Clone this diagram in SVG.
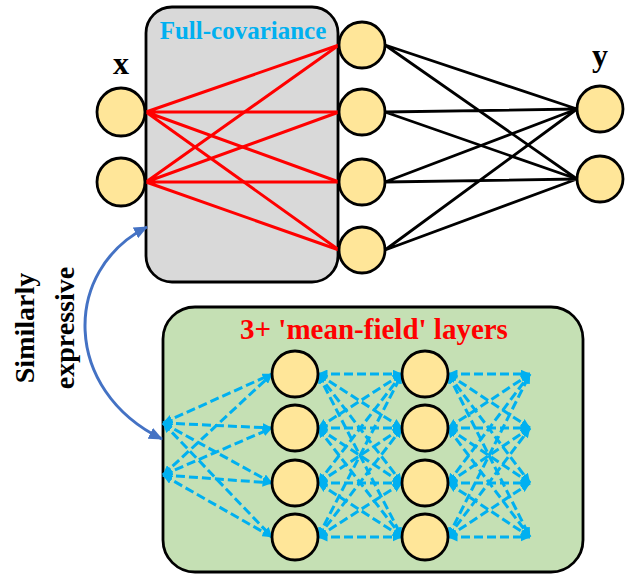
<svg xmlns="http://www.w3.org/2000/svg" width="644" height="577" viewBox="0 0 644 577">
<style>
.node{fill:#FFE699;stroke:#000;stroke-width:2.8}
.red{stroke:#FF0000;stroke-width:3;fill:none}
.blk{stroke:#000;stroke-width:2.8;fill:none}
.mf{stroke:#00B0F0;stroke-width:3;fill:none;stroke-dasharray:9 4;marker-start:url(#ah);marker-end:url(#ah)}
.t{font-family:"Liberation Serif","Times New Roman",serif;font-weight:bold;text-anchor:middle}
</style>
<defs>
<marker id="ah" viewBox="0 0 10 9" refX="9.5" refY="4.5" markerWidth="10" markerHeight="9" markerUnits="userSpaceOnUse" orient="auto-start-reverse">
<path d="M0,0 L10,4.5 L0,9 z" fill="#00B0F0"/>
</marker>
<marker id="bh" viewBox="0 0 14 12" refX="13" refY="6" markerWidth="14" markerHeight="12" markerUnits="userSpaceOnUse" orient="auto-start-reverse">
<path d="M0,0 L14,6 L0,12 z" fill="#4472C4"/>
</marker>
</defs>
<rect width="644" height="577" fill="#fff"/>
<g id="full-cov-box">
<rect x="146" y="7" width="192" height="275" rx="26" fill="#D9D9D9" stroke="#000" stroke-width="2.8"/>
<text class="t" x="243" y="39" font-size="25" fill="#00B0F0">Full-covariance</text>
</g>
<g id="mean-field-box">
<rect x="163" y="307" width="420" height="265" rx="32" fill="#C5E0B4" stroke="#000" stroke-width="2.8"/>
<text class="t" x="374" y="339" font-size="29" fill="#FF0000">3+ 'mean-field' layers</text>
</g>
<g id="labels">
<text class="t" x="121" y="74" font-size="32">x</text>
<text class="t" x="600" y="66" font-size="32">y</text>
<text class="t" font-size="28" transform="translate(34,328) rotate(-90)">Similarly</text>
<text class="t" font-size="28" transform="translate(74,328) rotate(-90)">expressive</text>
</g>
<g id="connectors">
<g class="red">
<path d="M146,112L339,45M146,112L339,112M146,112L339,182M146,112L339,250"/>
<path d="M146,182L339,45M146,182L339,112M146,182L339,182M146,182L339,250"/>
</g>
<g class="blk">
<path d="M385,45L577,109M385,45L577,179M385,112L577,109M385,112L577,179"/>
<path d="M385,182L577,109M385,182L577,179M385,250L577,109M385,250L577,179"/>
</g>
<g class="mf">
<path d="M163,423L272,374"/><path d="M163,423L272,428"/><path d="M163,423L272,483"/><path d="M163,423L272,537"/>
<path d="M163,475L272,374"/><path d="M163,475L272,428"/><path d="M163,475L272,483"/><path d="M163,475L272,537"/>
<path d="M318,374L402,374"/><path d="M318,374L402,428"/><path d="M318,374L402,483"/><path d="M318,374L402,537"/>
<path d="M318,428L402,374"/><path d="M318,428L402,428"/><path d="M318,428L402,483"/><path d="M318,428L402,537"/>
<path d="M318,483L402,374"/><path d="M318,483L402,428"/><path d="M318,483L402,483"/><path d="M318,483L402,537"/>
<path d="M318,537L402,374"/><path d="M318,537L402,428"/><path d="M318,537L402,483"/><path d="M318,537L402,537"/>
<path d="M448,374L530,374"/><path d="M448,374L530,428"/><path d="M448,374L530,483"/><path d="M448,374L530,537"/>
<path d="M448,428L530,374"/><path d="M448,428L530,428"/><path d="M448,428L530,483"/><path d="M448,428L530,537"/>
<path d="M448,483L530,374"/><path d="M448,483L530,428"/><path d="M448,483L530,483"/><path d="M448,483L530,537"/>
<path d="M448,537L530,374"/><path d="M448,537L530,428"/><path d="M448,537L530,483"/><path d="M448,537L530,537"/>
</g>
<path d="M162,439C62,390 62,270 147,227" fill="none" stroke="#4472C4" stroke-width="3" marker-start="url(#bh)" marker-end="url(#bh)"/>
</g>
<g id="x-nodes">
<circle class="node" cx="121" cy="112" r="24"/>
<circle class="node" cx="121" cy="182" r="24"/>
</g>
<g id="hidden-nodes">
<circle class="node" cx="362" cy="45" r="23"/>
<circle class="node" cx="362" cy="112" r="23"/>
<circle class="node" cx="362" cy="182" r="23"/>
<circle class="node" cx="362" cy="250" r="23"/>
</g>
<g id="y-nodes">
<circle class="node" cx="600" cy="109" r="23"/>
<circle class="node" cx="600" cy="179" r="23"/>
</g>
<g id="mf-layer1">
<circle class="node" cx="295" cy="374" r="23"/>
<circle class="node" cx="295" cy="428" r="23"/>
<circle class="node" cx="295" cy="483" r="23"/>
<circle class="node" cx="295" cy="537" r="23"/>
</g>
<g id="mf-layer2">
<circle class="node" cx="425" cy="374" r="23"/>
<circle class="node" cx="425" cy="428" r="23"/>
<circle class="node" cx="425" cy="483" r="23"/>
<circle class="node" cx="425" cy="537" r="23"/>
</g>
</svg>
